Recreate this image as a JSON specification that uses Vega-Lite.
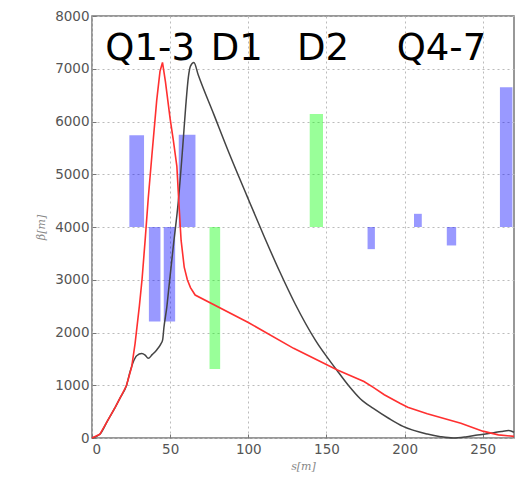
{
  "$schema": "https://vega.github.io/schema/vega-lite/v6.json",
  "width": 422,
  "height": 422,
  "autosize": "none",
  "padding": {"left": 92, "top": 16, "right": 6, "bottom": 42},
  "config": {
    "view": {"stroke": "#777", "strokeWidth": 1.5},
    "axis": {
      "labelFont": "DejaVu Sans",
      "labelFontSize": 13.5,
      "labelColor": "#555",
      "gridColor": "#bbb",
      "gridDash": [2, 3],
      "gridWidth": 1,
      "domain": false,
      "tickColor": "#777",
      "tickSize": -4,
      "format": "d",
      "titleFont": "DejaVu Serif",
      "titleFontStyle": "italic",
      "titleFontWeight": "normal",
      "titleFontSize": 11,
      "titleColor": "#888"
    }
  },
  "layer": [
    {
      "data": {"values": [
        {"s1": 23.9, "s2": 33.3, "b1": 4000, "b2": 5740, "kind": "Q"},
        {"s1": 36.4, "s2": 43.8, "b1": 2210, "b2": 4000, "kind": "Q"},
        {"s1": 45.9, "s2": 53.2, "b1": 2210, "b2": 4000, "kind": "Q"},
        {"s1": 55.5, "s2": 66.2, "b1": 4000, "b2": 5750, "kind": "Q"},
        {"s1": 176.3, "s2": 181.0, "b1": 3580, "b2": 4000, "kind": "Q"},
        {"s1": 206.0, "s2": 211.0, "b1": 4000, "b2": 4250, "kind": "Q"},
        {"s1": 227.0, "s2": 233.0, "b1": 3650, "b2": 4000, "kind": "Q"},
        {"s1": 261.0, "s2": 269.0, "b1": 4000, "b2": 6650, "kind": "Q"},
        {"s1": 75.2, "s2": 82.0, "b1": 1310, "b2": 4000, "kind": "D"},
        {"s1": 139.3, "s2": 147.8, "b1": 4000, "b2": 6140, "kind": "D"}
      ]},
      "mark": {"type": "rect", "opacity": 0.4},
      "encoding": {
        "x": {"field": "s1", "type": "quantitative", "scale": {"domain": [0, 270], "nice": false},
              "axis": {"values": [0, 50, 100, 150, 200, 250], "title": "s[m]", "labelPadding": 8, "titlePadding": 5}},
        "x2": {"field": "s2"},
        "y": {"field": "b1", "type": "quantitative", "scale": {"domain": [0, 8000], "nice": false},
              "axis": {"values": [0, 1000, 2000, 3000, 4000, 5000, 6000, 7000, 8000], "title": "β[m]", "labelPadding": 7, "titlePadding": 8}},
        "y2": {"field": "b2"},
        "color": {"field": "kind", "type": "nominal", "scale": {"domain": ["Q", "D"], "range": ["#0000ff", "#00ff00"]}, "legend": null}
      }
    },
    {
      "data": {"values": [
        {"s": 0, "b": 0}, {"s": 5, "b": 70}, {"s": 10, "b": 330}, {"s": 15, "b": 590}, {"s": 18, "b": 760},
        {"s": 22, "b": 990}, {"s": 24.4, "b": 1260}, {"s": 26.5, "b": 1450}, {"s": 28.6, "b": 1560},
        {"s": 31.8, "b": 1600}, {"s": 34, "b": 1570}, {"s": 36, "b": 1510}, {"s": 38.5, "b": 1580},
        {"s": 41.4, "b": 1670}, {"s": 44, "b": 1780}, {"s": 45.2, "b": 1860}, {"s": 46, "b": 2090},
        {"s": 47.9, "b": 2490}, {"s": 49, "b": 2800}, {"s": 52, "b": 3630}, {"s": 55.3, "b": 4510},
        {"s": 58, "b": 5500}, {"s": 60, "b": 6300}, {"s": 61.7, "b": 6850}, {"s": 63, "b": 7050},
        {"s": 65.2, "b": 7120}, {"s": 68, "b": 6880}, {"s": 78, "b": 6130}, {"s": 88, "b": 5380},
        {"s": 99, "b": 4600}, {"s": 110, "b": 3830}, {"s": 120, "b": 3160}, {"s": 130, "b": 2540},
        {"s": 143, "b": 1850}, {"s": 156.8, "b": 1280}, {"s": 164, "b": 1000},
        {"s": 171.8, "b": 740}, {"s": 180, "b": 560}, {"s": 190, "b": 370}, {"s": 199, "b": 220},
        {"s": 214.5, "b": 75}, {"s": 223, "b": 25}, {"s": 231, "b": 0}, {"s": 239, "b": 20},
        {"s": 246.6, "b": 55}, {"s": 256, "b": 95}, {"s": 262, "b": 125}, {"s": 266.7, "b": 140}, {"s": 270, "b": 110}
      ]},
      "mark": {"type": "line", "color": "#444", "strokeWidth": 1.5, "interpolate": "monotone"},
      "encoding": {
        "x": {"field": "s", "type": "quantitative"},
        "y": {"field": "b", "type": "quantitative"}
      }
    },
    {
      "data": {"values": [
        {"s": 0, "b": 0}, {"s": 5, "b": 70}, {"s": 10, "b": 330}, {"s": 15, "b": 590}, {"s": 18, "b": 760},
        {"s": 22, "b": 990}, {"s": 25.4, "b": 1350}, {"s": 27.6, "b": 1800}, {"s": 30.3, "b": 2500},
        {"s": 32, "b": 3000}, {"s": 34, "b": 3750}, {"s": 36, "b": 4550}, {"s": 38.3, "b": 5350},
        {"s": 41.4, "b": 6400}, {"s": 43.5, "b": 6950}, {"s": 45.1, "b": 7120}, {"s": 47, "b": 6750},
        {"s": 50, "b": 6050}, {"s": 52, "b": 5650}, {"s": 54.3, "b": 5150}, {"s": 55.5, "b": 4500},
        {"s": 57, "b": 3750}, {"s": 59, "b": 3240}, {"s": 61, "b": 3000}, {"s": 63, "b": 2850}, {"s": 66, "b": 2710},
        {"s": 100, "b": 2190}, {"s": 129, "b": 1700}, {"s": 157, "b": 1290},
        {"s": 174, "b": 1070}, {"s": 180, "b": 960}, {"s": 187, "b": 820}, {"s": 197, "b": 660}, {"s": 202, "b": 585},
        {"s": 214.5, "b": 460}, {"s": 236, "b": 280}, {"s": 250, "b": 130}, {"s": 260, "b": 60}, {"s": 270, "b": 30}
      ]},
      "mark": {"type": "line", "color": "#ff3030", "strokeWidth": 1.6, "interpolate": "linear"},
      "encoding": {
        "x": {"field": "s", "type": "quantitative"},
        "y": {"field": "b", "type": "quantitative"}
      }
    },
    {
      "data": {"values": [
        {"s": 37.2, "b": 7170, "label": "Q1-3"},
        {"s": 92.7, "b": 7170, "label": "D1"},
        {"s": 147.8, "b": 7170, "label": "D2"},
        {"s": 223.6, "b": 7170, "label": "Q4-7"}
      ]},
      "mark": {"type": "text", "font": "DejaVu Sans", "fontSize": 37, "color": "#000", "align": "center", "baseline": "alphabetic"},
      "encoding": {
        "x": {"field": "s", "type": "quantitative"},
        "y": {"field": "b", "type": "quantitative"},
        "text": {"field": "label"}
      }
    }
  ]
}
